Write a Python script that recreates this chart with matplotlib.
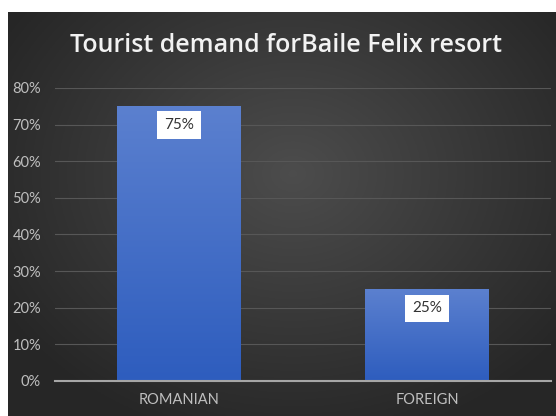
import numpy as np
import matplotlib.pyplot as plt
from matplotlib.ticker import PercentFormatter

categories = ["ROMANIAN", "FOREIGN"]
shares = [75, 25]
value_labels = ["75%", "25%"]
y_ticks = [0, 10, 20, 30, 40, 50, 60, 70, 80]

W, H = 556, 416
fig = plt.figure(figsize=(W / 100, H / 100), dpi=100)
fig.patch.set_facecolor("white")

# dark panel with radial gradient
bg = fig.add_axes([8 / W, 0, 1 - 8 / W, 1 - 12 / H])
yy, xx = np.mgrid[0:1:200j, 0:1:260j]
r = np.sqrt(((xx - 0.52) * 1.1) ** 2 + ((yy - 0.6) * 1.0) ** 2)
shade = np.clip(0.30 - 0.22 * r, 0.15, 0.30)
bg.imshow(np.dstack([shade] * 3), aspect="auto", extent=[0, 1, 0, 1], origin="lower")
bg.set_axis_off()

ax = fig.add_axes([55 / W, (H - 381) / H, (551 - 55) / W, (381 - 88) / H])
ax.patch.set_alpha(0)
ax.set_xlim(-0.5, 1.5)
ax.set_ylim(0, 80)

# bars with vertical gradient
top = np.array([0x5b, 0x80, 0xcf]) / 255
bot = np.array([0x2e, 0x5d, 0xbe]) / 255
grad = np.linspace(0, 1, 100)[:, None, None]
for i, v in enumerate(shares):
    img = bot[None, None, :] + (top - bot)[None, None, :] * grad
    ax.imshow(img, extent=[i - 0.25, i + 0.25, 0, v], aspect="auto", origin="lower", zorder=2)
    ax.text(i, v - 5.2, value_labels[i], ha="center", va="center", fontsize=11,
            color="#333333", zorder=3, family=["Lato", "DejaVu Sans"],
            bbox=dict(boxstyle="square,pad=0.45", fc="white", ec="none"))

ax.set_yticks(y_ticks)
ax.yaxis.set_major_formatter(PercentFormatter(decimals=0))
ax.set_xticks(range(len(categories)))
ax.set_xticklabels(categories)
ax.grid(axis="y", color="#575757", linewidth=0.8, zorder=0)
ax.set_axisbelow(True)
for s in ["top", "right", "left"]:
    ax.spines[s].set_visible(False)
ax.spines["bottom"].set_color("#a6a6a6")
ax.spines["bottom"].set_linewidth(1.5)
ax.spines["bottom"].set_zorder(4)
ax.tick_params(length=0, colors="#bfbfbf", labelsize=10.5)
ax.tick_params(axis="x", pad=9)
ax.tick_params(axis="y", pad=10)
for lbl in ax.get_xticklabels() + ax.get_yticklabels():
    lbl.set_family(["Lato", "DejaVu Sans"])

fig.text(286 / W, 1 - 46 / H, "Tourist demand forBaile Felix resort", ha="center", va="center",
         fontsize=18, color="#f2f2f2", fontweight="semibold", family=["Open Sans", "DejaVu Sans"])

fig.savefig("out.png", dpi=100)
